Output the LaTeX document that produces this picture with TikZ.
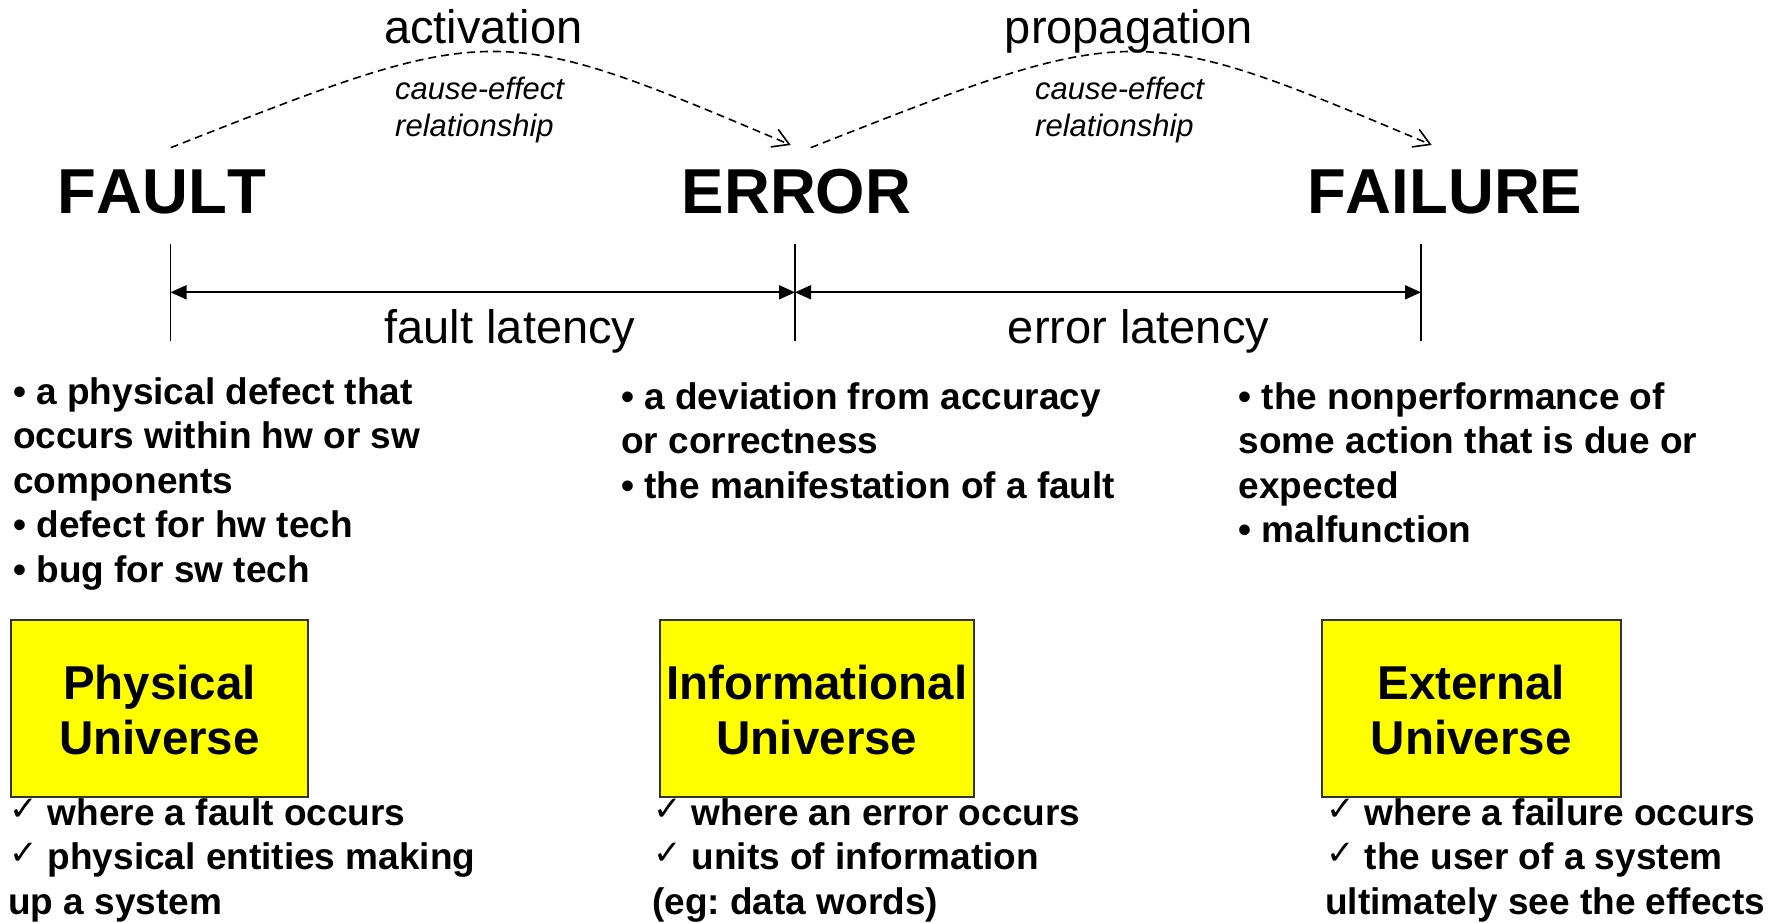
\documentclass[tikz,border=0pt]{standalone}
\usepackage{fontspec}
\setmainfont{Liberation Sans}[Kerning=Off]
\newfontfamily\chkfont{DejaVu Sans}
\usetikzlibrary{arrows.meta}
\frenchspacing
\definecolor{boxyellow}{HTML}{FFFF00}
\definecolor{boxedge}{HTML}{333333}
\newcommand{\linesL}[1]{\begin{tabular}[t]{@{}l@{}}#1\end{tabular}}
\newcommand{\linesC}[1]{\begin{tabular}[t]{@{}c@{}}#1\end{tabular}}
\newcommand{\chk}{\makebox[39.5pt][l]{\hspace{1pt}\raisebox{5pt}{\chkfont\fontsize{34}{34}\selectfont ✓}}}
\tikzset{
  bigword/.style={font=\fontsize{63.5}{75}\selectfont\bfseries, inner sep=0pt, anchor=base},
  lbl/.style={font=\fontsize{47}{56}\selectfont, inner sep=0pt, anchor=base},
  cause/.style={font=\fontsize{31}{36}\selectfont\itshape, inner sep=0pt, anchor=base west},
  body/.style={font=\fontsize{37}{44.6}\selectfont\bfseries, inner sep=0pt, anchor=base west},
  ubox/.style={draw=boxedge, line width=2pt, fill=boxyellow, inner sep=0pt, minimum height=176.7pt},
  utext/.style={font=\fontsize{47.5}{55.5}\selectfont\bfseries, inner sep=0pt, anchor=base},
  tickline/.style={line width=1.8pt},
  latspan/.style={line width=1.8pt, {Triangle[length=16pt,width=14pt]}-{Triangle[length=16pt,width=14pt]}},
  causearc/.style={line width=1.6pt, dash pattern=on 8pt off 5pt, -{Straight Barb[length=16pt,width=19pt]}}
}
\begin{document}
\begin{tikzpicture}[x=1pt,y=-1pt]
\useasboundingbox (0,0) rectangle (1774,923);

% top labels
\node[lbl] (act) at (483.3,44) {activation};
\node[lbl] (prop) at (1129,44) {propagation};
\node[cause] (ce1) at (395,100) {\linesL{cause-effect\\relationship}};
\node[cause] (ce2) at (1035,100) {\linesL{cause-effect\\relationship}};

% main words
\node[bigword] (fault) at (162,213) {FAULT};
\node[bigword] (error) at (796.5,213) {ERROR};
\node[bigword] (failure) at (1444.7,213) {FAILURE};

% cause-effect arcs
\coordinate (a1s) at (170.7,147.7);
\coordinate (a1e) at (790.7,145);
\coordinate (a2s) at (810.7,147.7);
\coordinate (a2e) at (1431.7,145);
\draw[causearc] (a1s) .. controls (495,20) .. (a1e);
\draw[causearc] (a2s) .. controls (1135,20) .. (a2e);

% ticks and latency spans
\coordinate (tFt) at (170.5,244); \coordinate (tFb) at (170.5,341);
\coordinate (tEt) at (795,244);   \coordinate (tEb) at (795,341);
\coordinate (tRt) at (1421,244);  \coordinate (tRb) at (1421,341);
\coordinate (mF) at (170.5,292.3);
\coordinate (mE) at (795,292.3);
\coordinate (mR) at (1421,292.3);
\draw[tickline] (tFt) -- (tFb);
\draw[tickline] (tEt) -- (tEb);
\draw[tickline] (tRt) -- (tRb);
\draw[latspan] (mF) -- (mE);
\draw[latspan] (mE) -- (mR);
\node[lbl] (flat) at (510,343.3) {fault latency};
\node[lbl] (elat) at (1138.5,343.3) {error latency};

% descriptions
\node[body] (dfault) at (13,404) {\linesL{• a physical defect that\\occurs within hw or sw\\components\\• defect for hw tech\\• bug for sw tech}};
\node[body] (derror) at (621,409) {\linesL{• a deviation from accuracy\\or correctness\\• the manifestation of a fault}};
\node[body] (dfailure) at (1238.5,409) {\linesL{• the nonperformance of\\some action that is due or\\expected\\• malfunction}};

% universe boxes
\node[ubox, minimum width=297.6pt] (pbox) at (159.5,708.3) {};
\node[ubox, minimum width=314pt] (ibox) at (817,708.3) {};
\node[ubox, minimum width=298.6pt] (xbox) at (1471.3,708.3) {};
\node[utext] (ptext) at (159.5,699) {\linesC{Physical\\Universe}};
\node[utext] (itext) at (817,699) {\linesC{Informational\\Universe}};
\node[utext] (xtext) at (1471.3,699) {\linesC{External\\Universe}};

% check lists
\node[body] (cfault) at (8,825) {\linesL{\chk where a fault occurs\\\chk physical entities making\\up a system}};
\node[body] (cerror) at (652,825) {\linesL{\chk where an error occurs\\\chk units of information\\(eg: data words)}};
\node[body] (cfailure) at (1325,825) {\linesL{\chk where a failure occurs\\\chk the user of a system\\ultimately see the effects}};
\end{tikzpicture}
\end{document}
